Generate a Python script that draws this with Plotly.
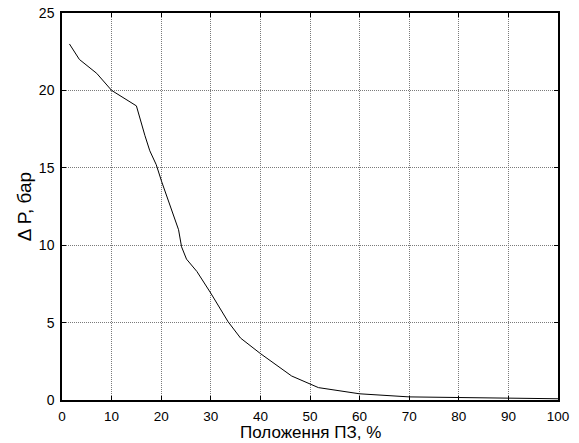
import plotly.graph_objects as go

position_pct = [1.5, 3.5, 7, 10, 15, 15.7, 16.7, 17.7, 19, 20.1, 22.4, 23.5, 24.1, 25.1,
                27.2, 30, 33.5, 36, 40, 46.3, 51.7, 60, 70, 80, 90, 100]
delta_p_bar = [23, 22, 21.1, 20, 19, 18.2, 17.1, 16.1, 15.2, 14.1, 12, 11, 9.9, 9.1,
               8.3, 6.9, 5.05, 4, 3, 1.55, 0.8, 0.4, 0.2, 0.15, 0.12, 0.08]

x_ticks = [0, 10, 20, 30, 40, 50, 60, 70, 80, 90, 100]
y_ticks = [0, 5, 10, 15, 20, 25]
x_title = "Положення ПЗ, %"
y_title = "Δ P, бар"

FONT = "Liberation Sans, Arial"

fig = go.Figure()
fig.add_trace(go.Scatter(x=position_pct, y=delta_p_bar, mode="lines",
                         line=dict(color="black", width=1), showlegend=False))

axis_common = dict(
    showline=True, linecolor="black", linewidth=1.5, mirror="ticks",
    ticks="inside", ticklen=4, tickcolor="black", tickwidth=1,
    showgrid=True, gridcolor="#7a7a7a", griddash="1px,1px", gridwidth=1,
    zeroline=False, automargin=False,
    tickfont=dict(family=FONT, size=14, color="black"),
)

fig.update_xaxes(range=[0, 100], tickvals=x_ticks, ticklabelstandoff=3,
                 **{**axis_common, "tickfont": dict(family=FONT, size=13.5, color="black")})
fig.update_yaxes(range=[0, 25], tickvals=y_ticks, ticklabelstandoff=3,
                 title=dict(text=y_title, standoff=2,
                            font=dict(family=FONT, size=19, color="black")),
                 **axis_common)

fig.add_annotation(text=x_title, xref="paper", yref="paper", x=0.5, y=0,
                   xanchor="center", yanchor="top", yshift=-21.5, showarrow=False,
                   borderpad=0, font=dict(family=FONT, size=17, color="black"))

fig.update_layout(
    width=579, height=443,
    margin=dict(l=62, r=21, t=13, b=43),
    paper_bgcolor="white", plot_bgcolor="white",
)

fig.write_html("out.html")
